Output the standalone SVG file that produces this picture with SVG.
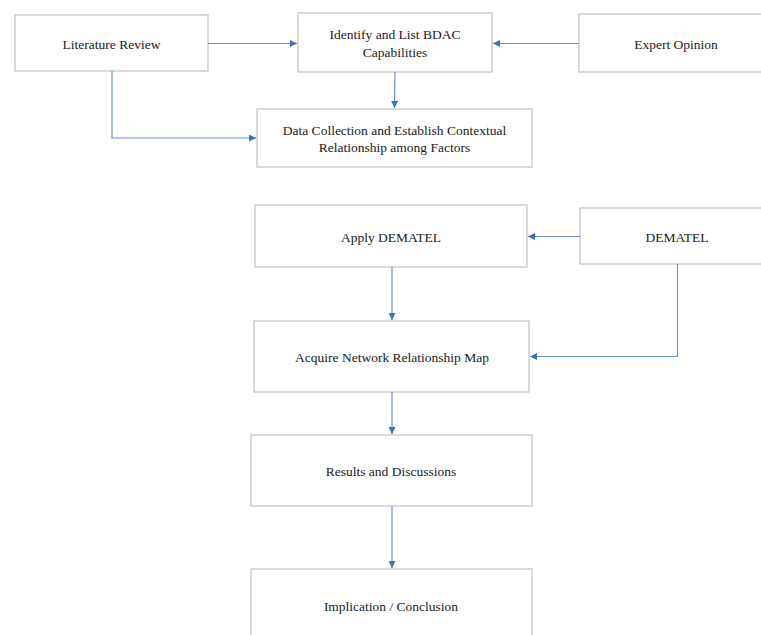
<svg xmlns="http://www.w3.org/2000/svg" width="761" height="635" viewBox="0 0 761 635">
<style>
.box{fill:#fff;stroke:#c6c6c6;stroke-width:1.3}
.t{font-family:"Liberation Serif","DejaVu Serif",serif;font-size:13.5px;fill:#222;text-anchor:middle}
.c{fill:none;stroke:#6b8fd6;stroke-width:1.2}
</style>
<defs>
<marker id="ah" viewBox="0 0 10 10" refX="10" refY="5" markerWidth="7" markerHeight="7" markerUnits="userSpaceOnUse" orient="auto">
<path d="M0,0 L10,5 L0,10 z" fill="#3f6cc8"/>
</marker>
</defs>
<rect width="761" height="635" fill="#fff"/>
<g id="n-literature"><rect class="box" x="15" y="15" width="193" height="56"/><text class="t" x="111.5" y="49">Literature Review</text></g>
<g id="n-identify"><rect class="box" x="298" y="13" width="194" height="59"/><text class="t" x="395" y="39">Identify and List BDAC</text><text class="t" x="395" y="57">Capabilities</text></g>
<g id="n-expert"><rect class="box" x="579" y="14" width="190" height="58"/><text class="t" x="676" y="49">Expert Opinion</text></g>
<g id="n-data"><rect class="box" x="257" y="109" width="275" height="58"/><text class="t" x="394.5" y="135">Data Collection and Establish Contextual</text><text class="t" x="394.5" y="152">Relationship among Factors</text></g>
<g id="n-apply"><rect class="box" x="255" y="205" width="272" height="62"/><text class="t" x="391" y="242">Apply DEMATEL</text></g>
<g id="n-dematel"><rect class="box" x="580" y="208" width="190" height="56"/><text class="t" x="677" y="242">DEMATEL</text></g>
<g id="n-acquire"><rect class="box" x="254" y="321" width="275" height="71"/><text class="t" x="392" y="362">Acquire Network Relationship Map</text></g>
<g id="n-results"><rect class="box" x="251" y="435" width="281" height="71"/><text class="t" x="391" y="476">Results and Discussions</text></g>
<g id="n-implication"><rect class="box" x="251" y="569" width="281" height="80"/><text class="t" x="391" y="611">Implication / Conclusion</text></g>
<g id="connectors">
<path class="c" d="M208,43.5 L297,43.5" marker-end="url(#ah)"/>
<path class="c" d="M579,43.5 L493,43.5" marker-end="url(#ah)"/>
<path class="c" d="M395,72 L394.5,108" marker-end="url(#ah)"/>
<path class="c" d="M112,71 L112,138 L256,138" marker-end="url(#ah)"/>
<path class="c" d="M580,236.5 L528,236.5" marker-end="url(#ah)"/>
<path class="c" d="M392,267 L392,320" marker-end="url(#ah)"/>
<path class="c" d="M677.5,264 L677.5,356.5 L530,356.5" marker-end="url(#ah)"/>
<path class="c" d="M392,392 L392,434" marker-end="url(#ah)"/>
<path class="c" d="M392,506 L392,568" marker-end="url(#ah)"/>
</g>
</svg>
